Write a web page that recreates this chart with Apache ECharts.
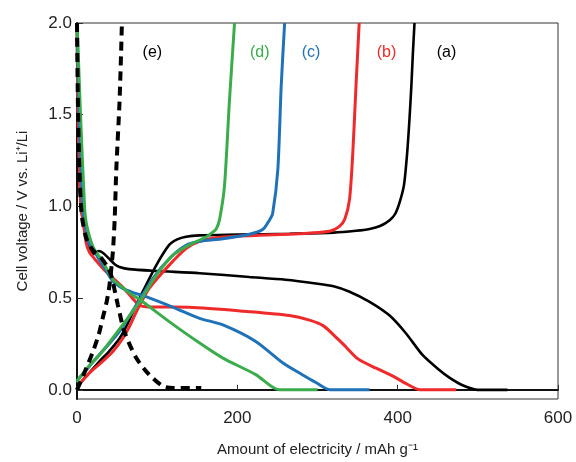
<!DOCTYPE html>
<html>
<head>
<meta charset="utf-8">
<script src="https://cdn.jsdelivr.net/npm/echarts@6/dist/echarts.min.js"></script>
<style>
  html, body { margin: 0; padding: 0; background: #fff; }
  #chart { width: 576px; height: 462px; }
</style>
</head>
<body>
<div id="chart"></div>
<script>
// Galvanostatic charge/discharge curves: [capacity (mAh/g), voltage (V)]
const aDischarge = [[0,2.0],[0.5,1.7],[1.5,1.4],[3,1.15],[5,1.0],[7,0.93],[12,0.82],[17,0.76],[21,0.74],[27,0.757],[33,0.745],[40,0.715],[47,0.685],[53,0.67],[65,0.658],[100,0.648],[153,0.636],[215,0.615],[260,0.6],[298,0.58],[320,0.565],[340,0.535],[365,0.48],[390,0.405],[410,0.31],[431,0.19],[450,0.115],[465,0.065],[481,0.025],[500,0.0],[537,0.0]];
const aCharge = [[0,0.0],[3,0.03],[15,0.09],[28,0.155],[40,0.21],[53,0.28],[62,0.35],[70,0.426],[82,0.535],[99,0.68],[115,0.79],[125,0.82],[136,0.835],[153,0.842],[200,0.846],[265,0.851],[320,0.857],[348,0.867],[365,0.877],[378,0.893],[390,0.925],[397,0.96],[403,1.03],[408,1.12],[412,1.3],[414.7,1.474],[417,1.65],[419,1.836],[421,2.0]];

const bDischarge = [[0,2.0],[0.5,1.8],[1,1.5],[3,1.2],[5,1.0],[7.3,0.93],[11.5,0.8],[15.6,0.75],[21.8,0.715],[36,0.645],[57,0.56],[69,0.5],[78,0.46],[90,0.452],[140,0.45],[215,0.426],[265,0.405],[290,0.38],[307,0.35],[320,0.3],[333,0.245],[350,0.17],[373,0.118],[394,0.075],[410,0.035],[428,0.0],[473,0.0]];
const bCharge = [[0,0.0],[3,0.03],[15,0.09],[32,0.155],[45,0.21],[57,0.28],[66,0.35],[74,0.426],[90,0.553],[115,0.68],[136,0.77],[153,0.81],[182,0.833],[223,0.842],[277,0.851],[315,0.865],[327,0.89],[334,0.93],[340,1.04],[344,1.29],[348,1.655],[352,2.0]];

const cDischarge = [[0,2.0],[1,1.8],[2.5,1.5],[7,1.0],[10,0.9],[15,0.8],[20,0.76],[25,0.73],[35,0.66],[45,0.59],[57,0.553],[70,0.53],[86,0.508],[120,0.45],[153,0.39],[182,0.354],[223,0.264],[257,0.146],[280,0.085],[298,0.04],[316,0.0],[365,0.0]];
const cCharge = [[0,0.05],[10,0.1],[24,0.173],[40,0.25],[53,0.318],[74,0.462],[94.5,0.607],[115,0.715],[136,0.788],[153,0.81],[182,0.824],[215,0.848],[232,0.875],[240,0.925],[244,0.96],[250.5,1.2],[254.7,1.655],[259,2.0]];

const dDischarge = [[0,2.0],[1,1.9],[4.4,1.5],[9.4,1.0],[12,0.9],[20,0.78],[32,0.7],[45,0.6],[53,0.571],[65,0.53],[82,0.48],[115,0.372],[153,0.255],[182,0.173],[223,0.083],[252,0.0],[300,0.0]];
const dCharge = [[0,0.04],[3,0.065],[15,0.13],[28,0.19],[57,0.354],[78,0.48],[99,0.625],[119.5,0.733],[140,0.79],[161,0.833],[169,0.858],[174,0.88],[178,0.932],[184,1.113],[190,1.565],[196.5,2.0]];

const eDischarge = [[0,2.0],[1,1.6],[3,1.2],[6,0.95],[12,0.82],[20,0.76],[30,0.72],[38,0.67],[42.6,0.625],[51,0.462],[59,0.318],[74,0.173],[90,0.083],[107,0.02],[120,0.01],[155,0.01]];
const eCharge = [[0,0.0],[8,0.08],[20,0.21],[27,0.3],[32,0.39],[37,0.48],[40.5,0.57],[44.7,0.75],[47,0.93],[49,1.2],[53,1.565],[55,1.836],[56,2.0]];

const yTicks = [0, 0.5, 1.0, 1.5, 2.0];
const seriesNames = ['(a)', '(b)', '(c)', '(d)', '(e)'];
const seriesColors = ['#000000', '#ee2a2a', '#1f72b8', '#3aac4c', '#000000'];

const FONT = '"Liberation Sans", Arial, sans-serif';

function curve(name, data, color, width, dashed) {
  return {
    type: 'line', name: name, data: data, showSymbol: false, smooth: 0.25,
    lineStyle: { color: color, width: width, type: dashed ? [9, 6] : 'solid', cap: 'butt' },
    silent: true, animation: false
  };
}

const chart = echarts.init(document.getElementById('chart'), null, { renderer: 'canvas' });
chart.setOption({
  animation: false,
  backgroundColor: '#ffffff',
  grid: { left: 77, right: 18, top: 23, bottom: 61, show: true, borderColor: '#333', borderWidth: 1 },
  xAxis: {
    type: 'value', min: 0, max: 600, interval: 200,
    name: 'Amount of electricity / mAh g\u207B\u00B9',
    nameLocation: 'middle', nameGap: 43,
    nameTextStyle: { fontFamily: FONT, fontSize: 15, color: '#222' },
    axisLine: { show: true, lineStyle: { color: '#111', width: 2 } },
    axisTick: { show: true, inside: true, length: 5, lineStyle: { color: '#333' } },
    axisLabel: { fontFamily: FONT, fontSize: 17, color: '#222', margin: 11 },
    splitLine: { show: false }
  },
  yAxis: {
    type: 'value', min: -0.05, max: 2.0,
    name: 'Cell voltage / V vs. Li\u207A/Li',
    nameLocation: 'middle', nameGap: 47,
    nameTextStyle: { fontFamily: FONT, fontSize: 15, color: '#222' },
    axisLine: { show: true, lineStyle: { color: '#111', width: 2 } },
    axisTick: { show: true, inside: true, length: 6, customValues: yTicks, lineStyle: { color: '#333' } },
    axisLabel: { fontFamily: FONT, fontSize: 17, color: '#222', margin: 5, customValues: yTicks,
      formatter: v => v.toFixed(1) },
    splitLine: { show: false }
  },
  series: [
    curve('a-dis', aDischarge, seriesColors[0], 2.6, false),
    curve('a-chg', aCharge, seriesColors[0], 2.6, false),
    curve('b-dis', bDischarge, seriesColors[1], 3, false),
    curve('b-chg', bCharge, seriesColors[1], 3, false),
    curve('c-dis', cDischarge, seriesColors[2], 3, false),
    curve('c-chg', cCharge, seriesColors[2], 3, false),
    curve('d-dis', dDischarge, seriesColors[3], 3, false),
    curve('d-chg', dCharge, seriesColors[3], 3, false),
    curve('e-dis', eDischarge, seriesColors[4], 4, true),
    curve('e-chg', eCharge, seriesColors[4], 4, true)
  ]
});

// Curve labels placed in data coordinates near the top of the plot
const labelAnchors = [[461, 1.84], [386, 1.84], [292, 1.84], [228, 1.84], [94, 1.84]];
chart.setOption({
  graphic: labelAnchors.map((p, i) => {
    const px = chart.convertToPixel({ gridIndex: 0 }, p);
    return {
      type: 'text', x: px[0], y: px[1], silent: true,
      style: { text: seriesNames[i], fill: seriesColors[i], font: '16px ' + FONT, align: 'center', verticalAlign: 'middle' }
    };
  })
});
</script>
</body>
</html>
